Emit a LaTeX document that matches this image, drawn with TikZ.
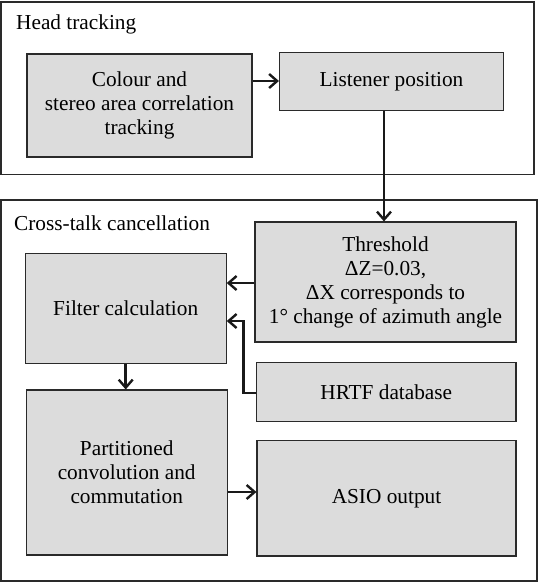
\documentclass[tikz,border=0pt]{standalone}
\usepackage{fontspec}
\setmainfont{Liberation Serif}
\usetikzlibrary{arrows.meta,positioning}
\definecolor{boxfill}{HTML}{DCDCDC}
\definecolor{boxline}{HTML}{2A2A2A}
\tikzset{
  group/.style={draw=boxline, line width=1.1pt},
  block/.style={draw=boxline, fill=boxfill, line width=1.1pt, inner sep=0pt, align=center, font=\fontsize{21.3}{24}\selectfont},
  grouplabel/.style={inner sep=0pt, anchor=west, font=\fontsize{21.3}{24}\selectfont},
  arr/.style={line width=2.6pt, color=black!90, -{Straight Barb[length=8pt,width=14pt,line width=2.4pt]}},
}
\begin{document}
\begin{tikzpicture}[x=1pt,y=-1pt]
\useasboundingbox[fill=white] (0,0) rectangle (539,582);
% group frames
\draw[group] (1,2) rectangle (534,174.3);
\draw[group] (1,200) rectangle (537,581);
\node[grouplabel] (lh) at (16,24) {Head tracking};
\node[grouplabel] (lc) at (14,223) {Cross-talk cancellation};
% blocks
\node[block, minimum width=225pt, minimum height=103pt] (col) at (139.5,105.5) {Colour and\\stereo area correlation\\tracking};
\node[block, minimum width=224pt, minimum height=58.5pt] (lis) at (391.5,81.5) {Listener position};
\node[block, minimum width=261pt, minimum height=120pt] (thr) at (385.5,282) {Threshold\\ΔZ=0.03,\\ΔX corresponds to\\1° change of azimuth angle};
\node[block, minimum width=201pt, minimum height=110pt] (fc) at (125.7,308.7) {Filter calculation};
\node[block, minimum width=259.3pt, minimum height=58.6pt] (hrtf) at (386.3,392) {HRTF database};
\node[block, minimum width=201.3pt, minimum height=165pt] (part) at (126.7,472.5) {Partitioned\\convolution and\\commutation};
\node[block, minimum width=259pt, minimum height=115.3pt] (asio) at (386.5,498.3) {ASIO output};
% helper coordinates
\coordinate (xl) at (384,0);
\coordinate (y1) at (0,81);
\coordinate (y2) at (0,283);
\coordinate (y3) at (0,321);
\coordinate (y4) at (0,393);
\coordinate (xh) at (243.3,0);
\coordinate (xf) at (125.7,0);
\coordinate (y5) at (0,492);
% connectors
\draw[arr] (col.east |- y1) -- (lis.west |- y1);
\draw[arr] (lis.south -| xl) -- (thr.north -| xl);
\draw[arr] (thr.west |- y2) -- (fc.east |- y2);
\draw[arr] (hrtf.west |- y4) -- (xh |- y4) -- (xh |- y3) -- (fc.east |- y3);
\draw[arr] (fc.south -| xf) -- (part.north -| xf);
\draw[arr] (part.east |- y5) -- (asio.west |- y5);
\end{tikzpicture}
\end{document}
